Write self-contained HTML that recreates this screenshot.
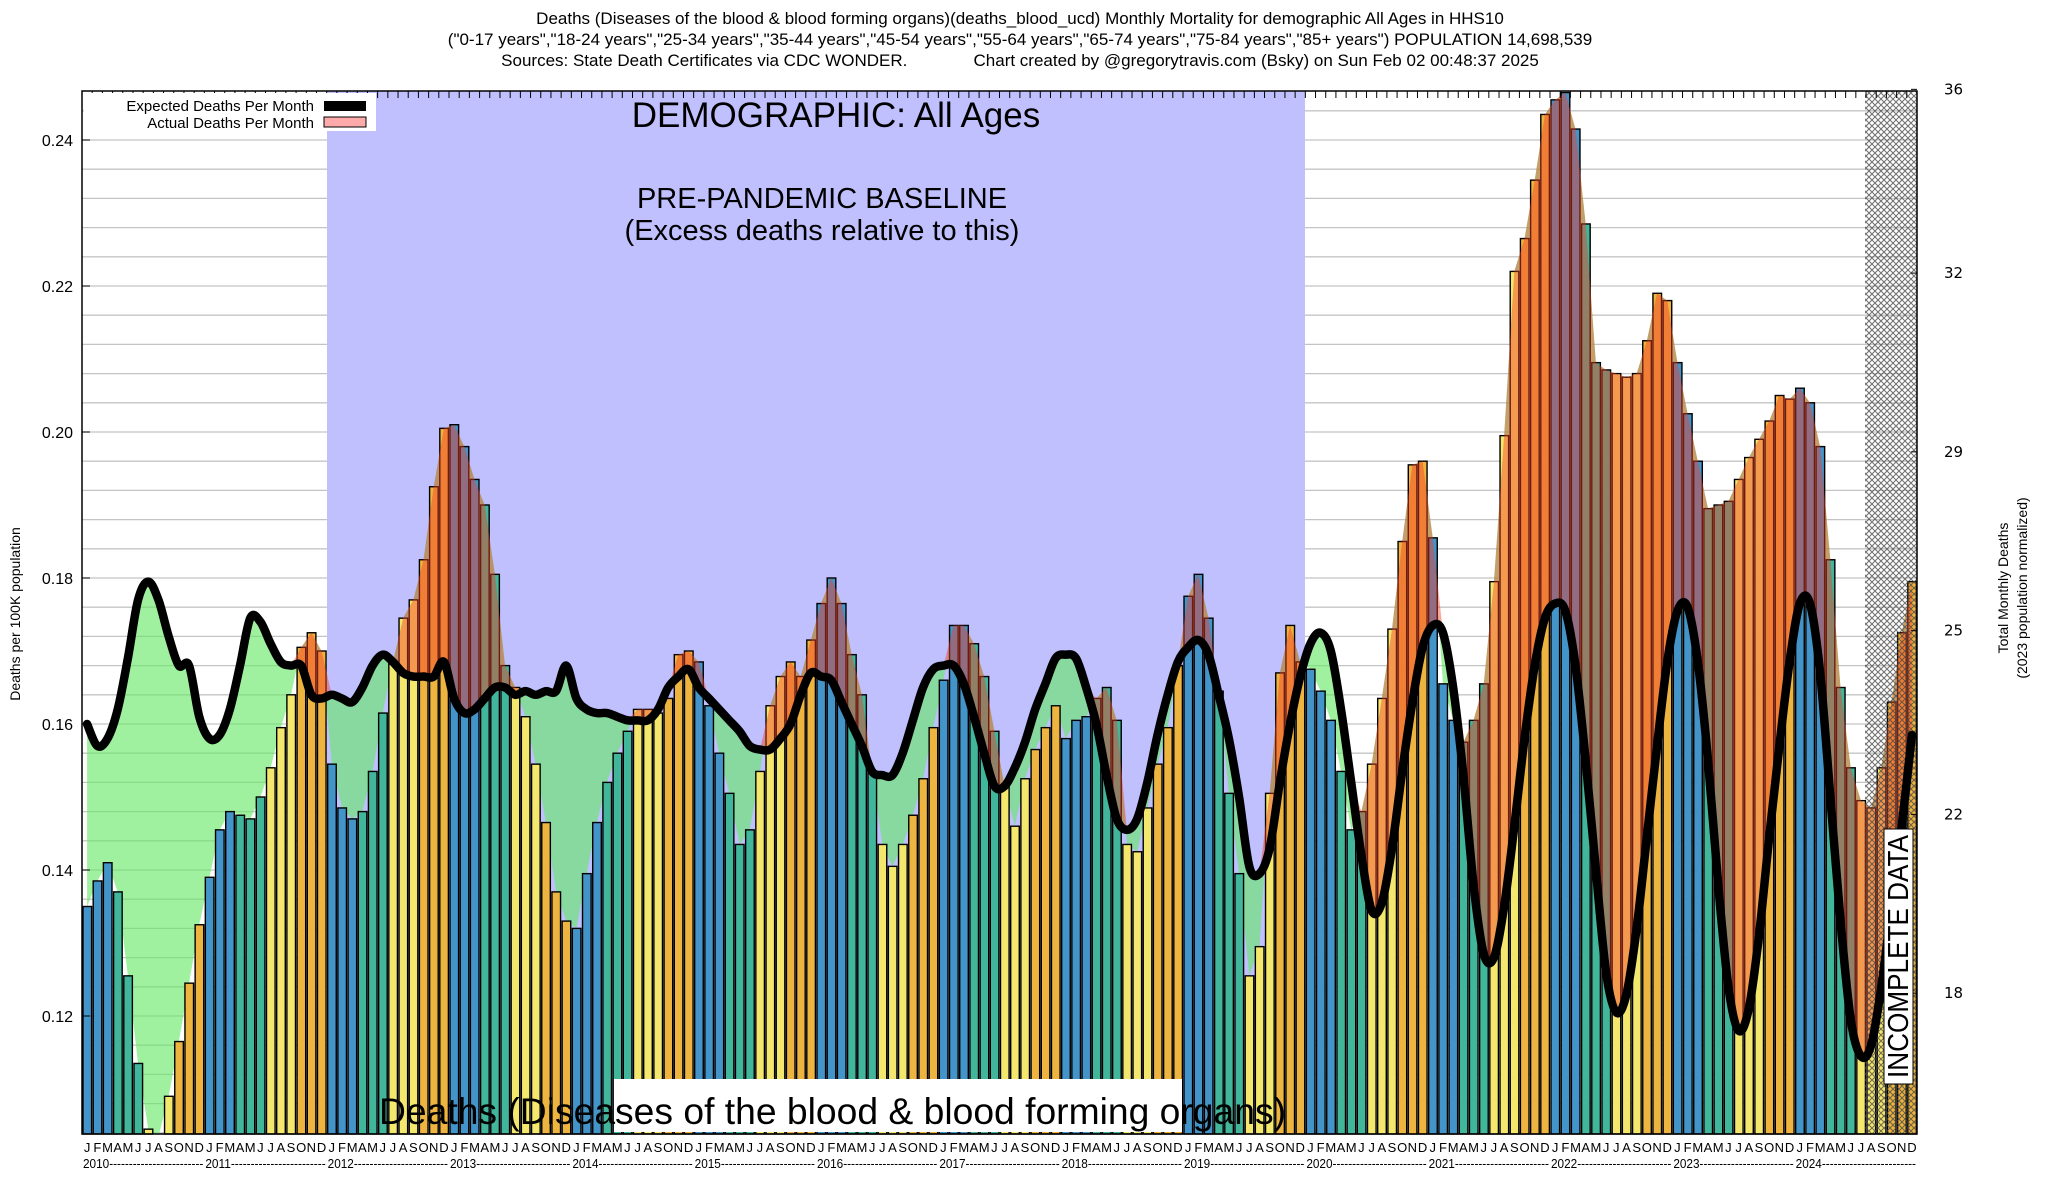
<!DOCTYPE html>
<html><head><meta charset="utf-8"><style>
html,body{margin:0;padding:0;background:#fff}
svg{display:block;font-family:"Liberation Sans",sans-serif}
</style></head><body>
<svg id="chart" width="2048" height="1200" viewBox="0 0 2048 1200" xmlns="http://www.w3.org/2000/svg">
<defs>
<pattern id="hatch" width="6" height="6" patternUnits="userSpaceOnUse">
<path d="M0,0 L6,6 M6,0 L0,6" stroke="#444" stroke-width="1.1"/>
</pattern>
<clipPath id="plotclip"><rect x="82" y="91" width="1835" height="1043"/></clipPath>
</defs>
<g font-size="17" text-anchor="middle" fill="#000">
<text x="1020" y="24">Deaths (Diseases of the blood &amp; blood forming organs)(deaths_blood_ucd) Monthly Mortality for demographic All Ages in HHS10</text>
<text x="1020" y="45">("0-17 years","18-24 years","25-34 years","35-44 years","45-54 years","55-64 years","65-74 years","75-84 years","85+ years") POPULATION 14,698,539</text>
<text x="1020" y="66" xml:space="preserve">Sources: State Death Certificates via CDC WONDER.              Chart created by @gregorytravis.com (Bsky) on Sun Feb 02 00:48:37 2025</text>
</g>
<g id="grid"></g>
<rect x="327" y="91" width="978" height="1043" fill="#c0c0ff"/>
<g id="fills-under" clip-path="url(#plotclip)"></g>
<g id="bars"></g>
<g id="fills-over" clip-path="url(#plotclip)"></g>
<rect x="1865" y="91" width="52" height="1043" fill="url(#hatch)" opacity="0.75"/>
<g id="line" clip-path="url(#plotclip)"></g>
<rect x="82" y="91" width="1835" height="1043" fill="none" stroke="#000" stroke-width="1.5"/>
<g id="axes"></g>
<text x="836" y="127" font-size="35" text-anchor="middle">DEMOGRAPHIC: All Ages</text>
<text x="822" y="208" font-size="29" text-anchor="middle">PRE-PANDEMIC BASELINE</text>
<text x="822" y="240" font-size="29" text-anchor="middle">(Excess deaths relative to this)</text>
<rect x="614" y="1079" width="568" height="53" fill="#fff"/>
<text x="379" y="1124" font-size="37" textLength="907" lengthAdjust="spacingAndGlyphs">Deaths (Diseases of the blood &amp; blood forming organs)</text>
<g>
<rect x="1884" y="829" width="29" height="255" fill="#fff" stroke="#000" stroke-width="1"/>
<text transform="translate(1908,1078) rotate(-90)" font-size="29" textLength="243" lengthAdjust="spacingAndGlyphs">INCOMPLETE DATA</text>
</g>
<g>
<rect x="84" y="93" width="292" height="38" fill="#fff"/>
<text x="314" y="111" font-size="15" text-anchor="end">Expected Deaths Per Month</text>
<rect x="324" y="101" width="42" height="10" fill="#000"/>
<text x="314" y="128" font-size="15" text-anchor="end">Actual Deaths Per Month</text>
<rect x="324" y="117" width="42" height="10" fill="#ffaaaa" stroke="#000" stroke-width="1"/>
</g>
<text transform="translate(20,614) rotate(-90)" font-size="14" text-anchor="middle">Deaths per 100K population</text>
<text transform="translate(2008,588) rotate(-90)" font-size="14" text-anchor="middle">Total Monthly Deaths</text>
<text transform="translate(2027,588) rotate(-90)" font-size="14" text-anchor="middle">(2023 population normalized)</text>
</svg>
<script>
const years = ['2010','2011','2012','2013','2014','2015','2016','2017','2018','2019','2020','2021','2022','2023','2024'];
const monthLetters = ['J','F','M','A','M','J','J','A','S','O','N','D'];
const actual2010 = [0.135,0.1385,0.141,0.137,0.1255,0.1135,0.1045,0.1035,0.109,0.1165,0.1245,0.1325];
const actual2011 = [0.139,0.1455,0.148,0.1475,0.147,0.150,0.154,0.1595,0.164,0.1705,0.1725,0.170];
const actual2012 = [0.1545,0.1485,0.147,0.148,0.1535,0.1615,0.1685,0.1745,0.177,0.1825,0.1925,0.2005];
const actual2013 = [0.201,0.198,0.1935,0.190,0.1805,0.168,0.165,0.161,0.1545,0.1465,0.137,0.133];
const actual2014 = [0.132,0.1395,0.1465,0.152,0.156,0.159,0.162,0.162,0.1615,0.1635,0.1695,0.170];
const actual2015 = [0.1685,0.1625,0.156,0.1505,0.1435,0.1455,0.1535,0.1625,0.1665,0.1685,0.1665,0.1715];
const actual2016 = [0.1765,0.180,0.1765,0.1695,0.164,0.1535,0.1435,0.1405,0.1435,0.1475,0.1525,0.1595];
const actual2017 = [0.166,0.1735,0.1735,0.171,0.1665,0.159,0.1515,0.146,0.1525,0.1565,0.1595,0.1625];
const actual2018 = [0.158,0.1605,0.161,0.1635,0.165,0.1605,0.1435,0.1425,0.1485,0.1545,0.1595,0.168];
const actual2019 = [0.1775,0.1805,0.1745,0.1645,0.1505,0.1395,0.1255,0.1295,0.1505,0.167,0.1735,0.1685];
const actual2020 = [0.1675,0.1645,0.1605,0.1535,0.1455,0.148,0.1545,0.1635,0.173,0.185,0.1955,0.196];
const actual2021 = [0.1855,0.1655,0.1605,0.1575,0.1605,0.1655,0.1795,0.1995,0.222,0.2265,0.2345,0.2435];
const actual2022 = [0.2455,0.2465,0.2415,0.2285,0.2095,0.2085,0.208,0.2075,0.208,0.2125,0.219,0.218];
const actual2023 = [0.2095,0.2025,0.196,0.1895,0.190,0.1905,0.1935,0.1965,0.199,0.2015,0.205,0.2045];
const actual2024 = [0.206,0.204,0.198,0.1825,0.165,0.154,0.1495,0.1485,0.154,0.163,0.1725,0.1795];
const expected2010 = [0.160,0.157,0.158,0.162,0.169,0.177,0.1795,0.177,0.172,0.168,0.168,0.161];
const expected2011 = [0.158,0.1585,0.162,0.168,0.1745,0.174,0.171,0.1685,0.168,0.168,0.164,0.1635];
const expected2012 = [0.164,0.1635,0.163,0.165,0.168,0.1695,0.1685,0.167,0.1665,0.1665,0.1665,0.1685];
const expected2013 = [0.1635,0.1615,0.162,0.1635,0.165,0.165,0.164,0.1645,0.164,0.1645,0.1645,0.168];
const expected2014 = [0.1635,0.162,0.1615,0.1615,0.161,0.1605,0.1605,0.1605,0.162,0.165,0.1665,0.1675];
const expected2015 = [0.165,0.1635,0.162,0.1605,0.159,0.157,0.1565,0.1565,0.158,0.160,0.164,0.167];
const expected2016 = [0.1665,0.166,0.163,0.160,0.157,0.1535,0.153,0.153,0.156,0.1605,0.165,0.1675];
const expected2017 = [0.168,0.168,0.1655,0.161,0.156,0.1515,0.1515,0.154,0.1575,0.162,0.1655,0.169];
const expected2018 = [0.1695,0.169,0.165,0.160,0.153,0.147,0.1455,0.147,0.152,0.1585,0.164,0.1685];
const expected2019 = [0.1705,0.1715,0.1695,0.164,0.158,0.150,0.1405,0.1395,0.143,0.152,0.160,0.1665];
const expected2020 = [0.171,0.1725,0.170,0.162,0.152,0.142,0.1345,0.1355,0.143,0.1535,0.163,0.1705];
const expected2021 = [0.1735,0.1725,0.165,0.153,0.138,0.1285,0.128,0.135,0.146,0.158,0.168,0.1745];
const expected2022 = [0.1765,0.1755,0.168,0.155,0.140,0.126,0.1205,0.123,0.132,0.1445,0.157,0.1685];
const expected2023 = [0.1755,0.176,0.1685,0.155,0.138,0.124,0.118,0.121,0.131,0.1445,0.157,0.1685];
const expected2024 = [0.1765,0.1765,0.167,0.150,0.133,0.1195,0.1145,0.116,0.124,0.135,0.146,0.1585];
const yTicks = [0.12,0.14,0.16,0.18,0.20,0.22,0.24];
const yTickLabels = ['0.12','0.14','0.16','0.18','0.20','0.22','0.24'];
const rightTickDeaths = [36.3,32.6,29.0,25.4,21.7,18.1];
const rightTickLabels = ['36','32','29','25','22','18'];

const actual = [].concat(actual2010,actual2011,actual2012,actual2013,actual2014,actual2015,actual2016,actual2017,actual2018,actual2019,actual2020,actual2021,actual2022,actual2023,actual2024);
const expected = [].concat(expected2010,expected2011,expected2012,expected2013,expected2014,expected2015,expected2016,expected2017,expected2018,expected2019,expected2020,expected2021,expected2022,expected2023,expected2024);

const NS='http://www.w3.org/2000/svg';
const X0=82, X1=1917, YT=91, YB=1134;
const N=actual.length;
const MW=(X1-X0)/N;
const POP_FACTOR=147;
function xScale(i){return X0+MW*i;}
function xCenter(i){return X0+MW*(i+0.5);}
function yScale(v){return 140+(0.24-v)/0.02*146;}
function mk(tag,attrs,parent){const e=document.createElementNS(NS,tag);for(const k in attrs)e.setAttribute(k,attrs[k]);parent.appendChild(e);return e;}
function smoothPath(vals){
  const p=vals.map((v,i)=>[xCenter(i),yScale(v)]);
  let d='M'+p[0][0]+','+p[0][1];
  for(let i=0;i<p.length-1;i++){
    const p0=p[Math.max(0,i-1)],p1=p[i],p2=p[i+1],p3=p[Math.min(p.length-1,i+2)];
    const c1=[p1[0]+(p2[0]-p0[0])/6,p1[1]+(p2[1]-p0[1])/6];
    const c2=[p2[0]-(p3[0]-p1[0])/6,p2[1]-(p3[1]-p1[1])/6];
    d+='C'+c1[0]+','+c1[1]+' '+c2[0]+','+c2[1]+' '+p2[0]+','+p2[1];
  }
  return d;
}

// grid
const grid=document.getElementById('grid');
for(let k=0;k<=35;k++){
  const v=0.104+k*0.004;
  const y=yScale(v);
  if(y<YT+1||y>YB-1)continue;
  const l=mk('line',{x1:X0,x2:X1,y1:y,y2:y,stroke:'#c4c4c4','stroke-width':1.3},grid);
  
  
}

// fills
const fu=document.getElementById('fills-under');
const fo=document.getElementById('fills-over');
let gp='';
for(let i=0;i<N;i++)gp+=(i?'L':'M')+xCenter(i)+','+yScale(expected[i]);
for(let i=N-1;i>=0;i--)gp+='L'+xCenter(i)+','+yScale(actual[i]);
gp+='Z';
const green=mk('path',{d:gp,fill:'rgb(100,232,100)','fill-opacity':0.62},fu);



const colors=['#4394c8','#41b69a','#f4e76e','#edb540'];
const bars=document.getElementById('bars');
for(let i=0;i<N;i++){
  const m=i%12;
  const y=Math.min(yScale(actual[i]),YB);
  const r=mk('rect',{x:xScale(i)+1,y:y,width:MW-1.6,height:YB-y,fill:colors[Math.floor(m/3)],stroke:'#000','stroke-width':1.4},bars);
  
  
}

let rp='';
for(let i=0;i<N;i++)rp+=(i?'L':'M')+xCenter(i)+','+yScale(Math.max(actual[i],expected[i]));
for(let i=N-1;i>=0;i--)rp+='L'+xCenter(i)+','+yScale(expected[i]);
rp+='Z';
const red=mk('path',{d:rp,fill:'rgb(245,60,40)','fill-opacity':0.45},fo);



// expected line
const line=mk('path',{d:smoothPath(expected),fill:'none',stroke:'#000','stroke-width':8.5,'stroke-linejoin':'round','stroke-linecap':'round'},document.getElementById('line'));



// axes
const axes=document.getElementById('axes');
for(let k=0;k<yTicks.length;k++){
  const y=yScale(yTicks[k]);
  const t=mk('line',{x1:X0,x2:X0+8,y1:y,y2:y,stroke:'#000','stroke-width':1},axes);
  
  
  const tx=mk('text',{x:73,y:y+6,'font-size':16,'text-anchor':'end'},axes);
  tx.textContent=yTickLabels[k];
  
  
}
for(let k=0;k<rightTickDeaths.length;k++){
  const y=yScale(rightTickDeaths[k]/POP_FACTOR);
  const t=mk('line',{x1:X1-6,x2:X1,y1:y,y2:y,stroke:'#000','stroke-width':1},axes);
  
  
  const tx=mk('text',{x:1944,y:y+5,'font-size':15,'font-family':'DejaVu Sans, sans-serif'},axes);
  tx.textContent=rightTickLabels[k];
  
  
}
for(let i=0;i<=N;i++){
  const x=xScale(i);
  const t=mk('line',{x1:x,x2:x,y1:YT,y2:YT+7,stroke:'#000','stroke-width':1},axes);
  
  
}
for(let i=0;i<N;i++){
  const tx=mk('text',{x:xCenter(i),y:1152,'font-size':13,'text-anchor':'middle'},axes);
  tx.textContent=monthLetters[i%12];
  
  
}
for(let y=0;y<years.length;y++){
  const tx=mk('text',{x:xScale(y*12)+1,y:1168,'font-size':13,textLength:MW*12-2,lengthAdjust:'spacingAndGlyphs'},axes);
  tx.textContent=years[y]+'------------------------';
  
  
}
</script>
</body></html>
